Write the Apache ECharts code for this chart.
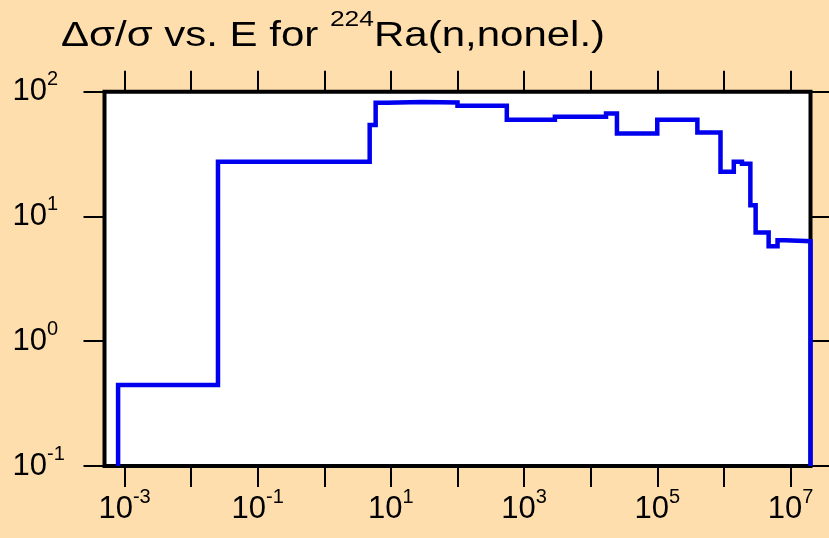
<!DOCTYPE html>
<html>
<head>
<meta charset="utf-8">
<title>Ra-224 nonel. uncertainty</title>
<script src="https://cdn.jsdelivr.net/npm/echarts@6.0.0/dist/echarts.min.js"></script>
<style>
  html, body { margin: 0; padding: 0; background: #FFDEAD; }
  #chart { width: 829px; height: 538px; }
</style>
</head>
<body>
<div id="chart"></div>
<script>
// bin edges (eV) and relative uncertainty per bin (%)
var edges = [8e-4, 0.0253, 4.8, 5.9, 8.7, 29, 100, 550, 2900, 17000, 24800, 1e5, 4e5, 8.9e5,
             1.41e6, 1.87e6, 2.5e6, 3e6, 4.7e6, 6.4e6, 8.3e6, 2e7];
var values = [0.445, 27.4, 54, 81.5, 82.5, 82, 77, 59.5, 63, 67, 46.3, 59.5, 47, 22.8,
              27.4, 26.4, 12.3, 7.45, 5.76, 6.46, 6.33];
var xTicks = [1e-3, 1e-2, 1e-1, 1, 10, 100, 1e3, 1e4, 1e5, 1e6, 1e7];
var xLabels = [1e-3, 1e-1, 10, 1e3, 1e5, 1e7];
var yTicks = [0.1, 1, 10, 100];

var xMin = 5e-4, xMax = 2e7, yMin = 0.1, yMax = 100;

var pts = [[edges[0], yMin]];
values.forEach(function (v, i) {
  pts.push([edges[i], v]);
});
pts.push([edges[edges.length - 1], values[values.length - 1]]);
pts.push([edges[edges.length - 1], yMin]);

function powLabel(v) {
  return '{base|10}{sup|' + Math.round(Math.log10(v)) + '}';
}
var labelRich = {
  base: { fontSize: 31, lineHeight: 44, fontFamily: 'Liberation Sans', color: '#000' },
  sup: { fontSize: 20, lineHeight: 22, verticalAlign: 'top', fontFamily: 'Liberation Sans', color: '#000' }
};
function tickStyle() {
  return { show: true, inside: false, length: 21, lineStyle: { color: '#000', width: 2 } };
}

function xAxis(pos, labels) {
  var tick = tickStyle();
  tick.customValues = xTicks;
  return {
    type: 'log', position: pos, min: xMin, max: xMax, logBase: 10,
    axisLine: { show: false },
    axisTick: tick,
    splitLine: { show: false },
    minorTick: { show: false },
    axisLabel: labels ? {
      show: true, margin: 21, customValues: xLabels,
      fontSize: 31, fontFamily: 'Liberation Sans', color: '#000',
      formatter: powLabel,
      rich: labelRich
    } : { show: false }
  };
}
function yAxis(pos, labels) {
  var tick = tickStyle();
  tick.customValues = yTicks;
  return {
    type: 'log', position: pos, min: yMin, max: yMax, logBase: 10,
    axisLine: { show: false },
    axisTick: tick,
    splitLine: { show: false },
    minorTick: { show: false },
    axisLabel: labels ? {
      show: true, margin: 92, align: 'left', customValues: yTicks,
      fontSize: 31, fontFamily: 'Liberation Sans', color: '#000',
      formatter: powLabel,
      rich: labelRich
    } : { show: false }
  };
}

var myChart = echarts.init(document.getElementById('chart'));
var option = {
  backgroundColor: '#FFDEAD',
  animation: false,
  graphic: [{
    type: 'text',
    x: 61, y: 9,
    scaleX: 1.2,
    style: {
      text: '{m|Δσ/σ vs. E for }{s|224}{m|Ra(n,nonel.)}',
      verticalAlign: 'top',
      rich: {
        m: { fontSize: 35, lineHeight: 54, fontFamily: 'Liberation Sans', fill: '#000' },
        s: { fontSize: 22, lineHeight: 22, verticalAlign: 'top', fontFamily: 'Liberation Sans', fill: '#000' }
      }
    }
  }],
  grid: {
    left: 104.5, right: 18.5, top: 91.7, bottom: 72,
    show: true, backgroundColor: '#fff', borderColor: '#000', borderWidth: 4
  },
  xAxis: [xAxis('bottom', true), xAxis('top', false)],
  yAxis: [yAxis('left', true), yAxis('right', false)],
  series: [{
    type: 'line',
    step: 'end',
    data: pts,
    symbol: 'none',
    clip: false,
    lineStyle: { color: '#0000ee', width: 4.5, join: 'miter' }
  }]
};
myChart.setOption(option);
</script>
</body>
</html>
